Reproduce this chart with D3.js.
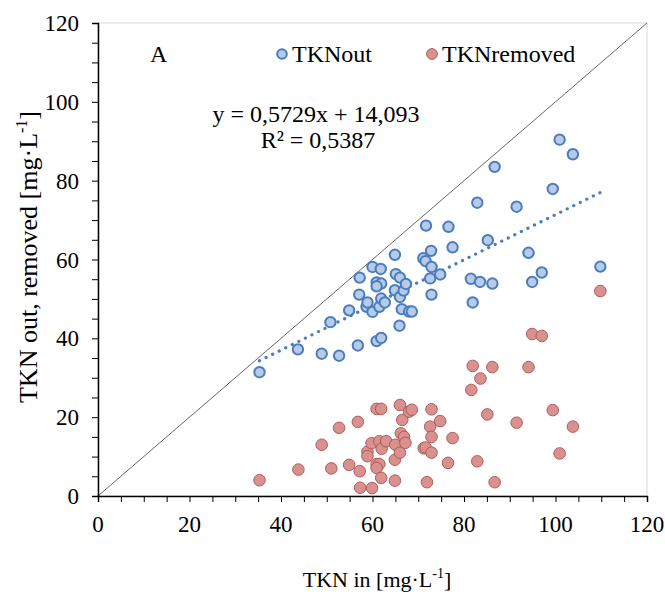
<!DOCTYPE html>
<html>
<head>
<meta charset="utf-8">
<script src="https://cdn.jsdelivr.net/npm/d3@7/dist/d3.min.js"></script>
<style>
  html, body { margin: 0; padding: 0; background: #fff; }
  svg { display: block; font-family: "Liberation Serif", "Times New Roman", serif; }
</style>
</head>
<body>
<svg id="chart" width="665" height="594"></svg>
<script>
// TKN in (x) with the corresponding TKN out and TKN removed values, mg·L-1
const tknIn = [35.3, 43.7, 48.9, 50.8, 52.7, 54.9, 56.8, 57.1, 57.2, 58.7,
  58.9, 60.0, 60.0, 60.9, 61.9, 60.9, 61.9, 60.9, 61.5, 61.8,
  61.9, 62.7, 64.9, 64.9, 65.1, 66.0, 66.0, 66.4, 65.9, 66.8,
  67.3, 68.0, 68.6, 71.1, 71.6, 71.7, 72.8, 72.9, 72.6, 72.9,
  74.8, 76.6, 77.5, 81.5, 81.9, 82.9, 83.5, 85.2, 86.2, 86.7,
  91.5, 94.1, 94.9, 97.0, 99.4, 100.9, 103.8, 109.8];
const tknOut = [31.4, 37.2, 36.1, 44.1, 35.6, 47.1, 38.2, 51.1, 55.4, 48.0,
  49.1, 46.7, 58.1, 39.3, 40.1, 54.2, 53.9, 53.2, 48.0, 57.6,
  50.1, 49.1, 61.2, 52.2, 56.3, 55.4, 50.5, 47.4, 43.2, 52.1,
  53.8, 46.8, 46.8, 60.3, 59.6, 68.6, 62.2, 58.1, 55.2, 51.1,
  56.2, 68.3, 63.1, 55.1, 49.1, 74.4, 54.3, 64.9, 53.9, 83.5,
  73.4, 61.7, 54.3, 56.7, 77.9, 90.4, 86.7, 58.2];

const tknInRem = [35.3, 43.8, 48.9, 51.0, 52.7, 54.9, 56.8, 57.2, 57.3, 58.9,
  58.9, 59.9, 59.8, 60.9, 61.9, 60.9, 61.5, 60.9, 61.9, 61.5,
  62.0, 63.0, 64.9, 64.9, 65.0, 66.0, 66.0, 66.2, 66.5, 66.9,
  67.2, 68.0, 68.6, 71.2, 71.6, 71.9, 72.6, 72.9, 72.9, 72.9,
  74.8, 76.5, 77.5, 81.6, 81.9, 82.9, 83.6, 85.1, 86.2, 86.7,
  91.5, 94.1, 94.9, 97.0, 99.4, 100.9, 103.8, 109.8];
const tknRemoved = [4.0, 6.7, 13.0, 7.0, 17.3, 7.9, 18.8, 6.3, 2.1, 11.2,
  10.1, 2.0, 13.4, 22.1, 22.1, 8.1, 8.1, 7.1, 4.6, 13.9,
  12.0, 13.9, 9.2, 3.9, 13.0, 23.1, 11.0, 15.9, 19.3, 15.0,
  13.5, 21.4, 21.9, 12.1, 12.3, 3.5, 17.6, 22.0, 15.0, 11.0,
  19.0, 8.4, 14.7, 26.9, 33.0, 8.8, 29.8, 20.7, 32.7, 3.5,
  18.6, 32.7, 41.1, 40.6, 21.8, 10.8, 17.6, 52.0];

// Linear trend of TKN out on TKN in
const slope = 0.5729;
const intercept = 14.093;
const rSquared = 0.5387;

const axisTicks = [0, 20, 40, 60, 80, 100, 120];
const minorTicks = d3.range(0, 121, 5);
const seriesNames = ["TKNout", "TKNremoved"];

const svg = d3.select("#chart");
const m = { left: 98, right: 647, top: 23, bottom: 496 };

const x = d3.scaleLinear().domain([0, 120]).range([m.left, m.right]);
const y = d3.scaleLinear().domain([0, 120]).range([m.bottom, m.top]);

const blue = { fill: "#b7cbe8", stroke: "#4a7dbf" };
const red = { fill: "#d99190", stroke: "#a9514f" };

// plot area frame (light)
svg.append("rect")
  .attr("x", m.left).attr("y", m.top)
  .attr("width", m.right - m.left).attr("height", m.bottom - m.top)
  .attr("fill", "none").attr("stroke", "#d9d9d9").attr("stroke-width", 1);

// 1:1 reference line
svg.append("line")
  .attr("x1", x(0)).attr("y1", y(0)).attr("x2", x(120)).attr("y2", y(120))
  .attr("stroke", "#404040").attr("stroke-width", 0.8);

// axes
const xAxis = d3.axisBottom(x).tickValues(minorTicks).tickSize(6).tickFormat("");
const yAxis = d3.axisLeft(y).tickValues(minorTicks).tickSize(6).tickFormat("");

const gx = svg.append("g").attr("transform", `translate(0,${m.bottom})`).call(xAxis);
const gy = svg.append("g").attr("transform", `translate(${m.left},0)`).call(yAxis);
[gx, gy].forEach(g => {
  g.select(".domain").attr("stroke", "#000").attr("stroke-width", 1.5);
  g.selectAll(".tick line").attr("stroke", "#000").attr("stroke-width", 1);
});

// tick labels
svg.append("g").selectAll("text").data(axisTicks).join("text")
  .attr("x", d => x(d)).attr("y", 532)
  .attr("text-anchor", "middle")
  .attr("font-size", 23).attr("fill", "#000")
  .text(d => d);
svg.append("g").selectAll("text").data(axisTicks).join("text")
  .attr("x", 79).attr("y", d => y(d) + 8)
  .attr("text-anchor", "end")
  .attr("font-size", 23).attr("fill", "#000")
  .text(d => d);

// trend line (dotted)
const xMin = d3.min(tknIn), xMax = d3.max(tknIn);
svg.append("line")
  .attr("x1", x(xMin)).attr("y1", y(slope * xMin + intercept))
  .attr("x2", x(xMax)).attr("y2", y(slope * xMax + intercept))
  .attr("stroke", "#4a7dbf").attr("stroke-width", 3.2)
  .attr("stroke-linecap", "round")
  .attr("stroke-dasharray", "0.1 7.2");

// TKN removed points
svg.append("g").selectAll("circle").data(d3.range(tknInRem.length)).join("circle")
  .attr("cx", i => x(tknInRem[i])).attr("cy", i => y(tknRemoved[i]))
  .attr("r", 5.8)
  .attr("fill", red.fill).attr("stroke", red.stroke).attr("stroke-width", 0.9);

// TKN out points
svg.append("g").selectAll("circle").data(d3.range(tknIn.length)).join("circle")
  .attr("cx", i => x(tknIn[i])).attr("cy", i => y(tknOut[i]))
  .attr("r", 5.2)
  .attr("fill", blue.fill).attr("stroke", blue.stroke).attr("stroke-width", 2);

// panel letter
svg.append("text").attr("x", 150).attr("y", 62)
  .attr("font-size", 24).text("A");

// legend
const legend = svg.append("g");
const legendItems = [
  { name: seriesNames[0], cx: 282, tx: 292, c: blue, sw: 2, r: 4.8 },
  { name: seriesNames[1], cx: 432, tx: 442, c: red, sw: 0.9, r: 5.4 }
];
legendItems.forEach(it => {
  legend.append("circle").attr("cx", it.cx).attr("cy", 54).attr("r", it.r)
    .attr("fill", it.c.fill).attr("stroke", it.c.stroke).attr("stroke-width", it.sw);
  legend.append("text").attr("x", it.tx).attr("y", 62)
    .attr("font-size", 24).text(it.name);
});

// regression equation
const fmt = v => String(v).replace(".", ",");
svg.append("text").attr("x", 316).attr("y", 122).attr("text-anchor", "middle")
  .attr("font-size", 24)
  .text(`y = ${fmt(slope)}x + ${fmt(intercept)}`);
svg.append("text").attr("x", 318).attr("y", 148).attr("text-anchor", "middle")
  .attr("font-size", 24)
  .text(`R² = ${fmt(rSquared)}`);

// axis titles
const xt = svg.append("text").attr("x", 377).attr("y", 587)
  .attr("text-anchor", "middle").attr("font-size", 22);
xt.append("tspan").text("TKN in [mg·L");
xt.append("tspan").attr("font-size", 14).attr("dy", -9).text("-1");
xt.append("tspan").attr("dy", 9).text("]");

const yt = svg.append("text")
  .attr("transform", `translate(37,257) rotate(-90)`)
  .attr("text-anchor", "middle").attr("font-size", 26);
yt.append("tspan").text("TKN out, removed [mg·L");
yt.append("tspan").attr("font-size", 16).attr("dy", -10).text("-1");
yt.append("tspan").attr("dy", 10).text("]");
</script>
</body>
</html>
